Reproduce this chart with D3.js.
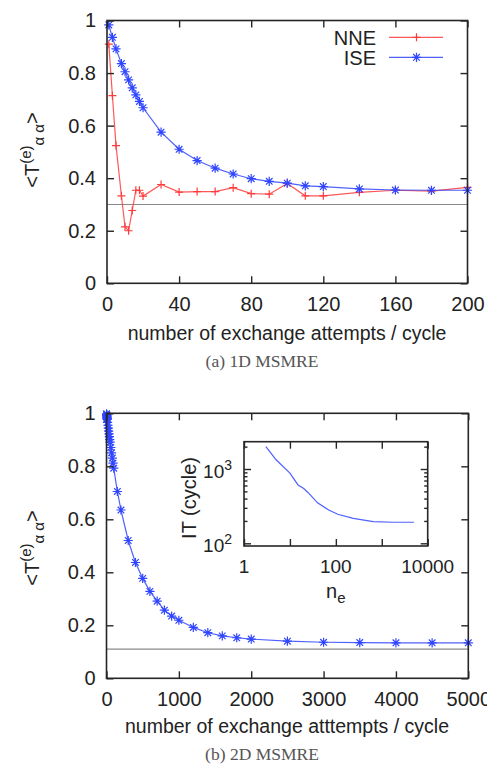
<!DOCTYPE html>
<html>
<head>
<meta charset="utf-8">
<script src="https://cdn.jsdelivr.net/npm/d3@7"></script>
<style>
  html, body { margin: 0; padding: 0; background: #fff; }
  svg { display: block; }
  text { font-family: "Liberation Sans", Arial, sans-serif; fill: #222; }
  .cap { font-family: "Liberation Serif", "DejaVu Serif", serif; fill: #555; }
</style>
</head>
<body>
<svg id="fig" width="487" height="764"></svg>
<script>
// ---- (a) 1D MSMRE ----
const attempts1D = [1, 3, 5, 8, 10, 12, 14, 16, 18, 20, 30, 40, 50, 60, 70, 80, 90, 100, 110, 120, 140, 160, 180, 200];
const nne1D = [0.91, 0.714, 0.524, 0.333, 0.215, 0.200, 0.277, 0.354, 0.354, 0.332, 0.376, 0.347, 0.349, 0.349, 0.364, 0.341, 0.339, 0.380, 0.333, 0.333, 0.346, 0.354, 0.351, 0.365];
const ise1D = [0.983, 0.936, 0.892, 0.836, 0.805, 0.774, 0.744, 0.717, 0.692, 0.668, 0.575, 0.510, 0.467, 0.438, 0.416, 0.398, 0.388, 0.381, 0.371, 0.368, 0.359, 0.355, 0.354, 0.354];
const limit1D = 0.3;
const xTicks1D = [0, 40, 80, 120, 160, 200];
const yTicks = [0, 0.2, 0.4, 0.6, 0.8, 1];

// ---- (b) 2D MSMRE ----
const attempts2D = [1, 2, 3, 4, 5, 6, 7, 8, 9, 10, 15, 20, 25, 30, 35, 40, 45, 50, 60, 70, 80, 90, 100,
  150, 200, 300, 400, 500, 600, 700, 800, 900, 1000, 1200, 1400, 1600, 1800, 2000, 2500, 3000, 3500, 4000, 4500, 5000];
const ise2D = [0.998, 0.995, 0.993, 0.991, 0.988, 0.986, 0.984, 0.981, 0.979, 0.977, 0.966, 0.955, 0.944, 0.933, 0.922, 0.912, 0.901, 0.891, 0.871, 0.851, 0.831, 0.812, 0.793,
  0.705, 0.635, 0.520, 0.437, 0.377, 0.328, 0.291, 0.257, 0.235, 0.219, 0.192, 0.172, 0.160, 0.153, 0.148, 0.140, 0.136, 0.135, 0.134, 0.134, 0.134];
const limit2D = 0.11;
const xTicks2D = [0, 1000, 2000, 3000, 4000, 5000];

// ---- inset: IT vs n_e ----
const insetNe = [3, 5, 10, 15, 20, 25, 40, 70, 110, 240, 650, 1800, 5000];
const insetIT = [2000, 1330, 880, 610, 545, 480, 350, 280, 246, 217, 196, 192, 192];
const insetXTicks = [1, 10, 100, 1000, 10000];
const insetXLabels = [1, 100, 10000];
const insetYMajor = [100, 1000];
const insetYMinor = [200, 300, 400, 500, 600, 700, 800, 900, 2000];

const RED = "#ff3b3b", BLUE = "#2f45ff", FRAME = "#262626", FS = 20;
const svg = d3.select("#fig");

const plusPath = "M-4,0H4M0,-4V4";
const starPath = "M-4.6,0H4.6M0,-4.6V4.6M-3.3,-3.3L3.3,3.3M-3.3,3.3L3.3,-3.3";

function styleAxis(g, labels) {
  g.select(".domain").remove();
  g.selectAll(".tick line").attr("stroke", FRAME).attr("stroke-width", 1.4);
  g.selectAll(".tick text").attr("fill", "#222").style("font-size", FS + "px")
    .style("font-family", "'Liberation Sans', Arial, sans-serif");
  if (!labels) g.selectAll(".tick text").remove();
}

function frame(x, y) {
  const [x0, x1] = x.range(), [y0, y1] = y.range();
  svg.append("rect").attr("x", x0).attr("y", y1).attr("width", x1 - x0).attr("height", y0 - y1)
    .attr("fill", "none").attr("stroke", FRAME).attr("stroke-width", 1.6);
}

function mainAxes(x, y, xt) {
  const [x0, x1] = x.range(), [y0, y1] = y.range();
  svg.append("g").attr("transform", `translate(0,${y0})`)
    .call(d3.axisBottom(x).tickValues(xt).tickSize(-7).tickPadding(14).tickFormat(d3.format("d")))
    .call(g => styleAxis(g, true));
  svg.append("g").attr("transform", `translate(0,${y1})`)
    .call(d3.axisTop(x).tickValues(xt).tickSize(-7))
    .call(g => styleAxis(g, false));
  svg.append("g").attr("transform", `translate(${x0},0)`)
    .call(d3.axisLeft(y).tickValues(yTicks).tickSize(-7).tickPadding(11).tickFormat(d => d3.format("")(+d.toFixed(1))))
    .call(g => styleAxis(g, true));
  svg.append("g").attr("transform", `translate(${x1},0)`)
    .call(d3.axisRight(y).tickValues(yTicks).tickSize(-7))
    .call(g => styleAxis(g, false));
}

function refLine(x, y, v) {
  const [x0, x1] = x.domain();
  svg.append("line").attr("x1", x(x0)).attr("x2", x(x1)).attr("y1", y(v)).attr("y2", y(v))
    .attr("stroke", "#8a8a8a").attr("stroke-width", 1.1);
}

function series(x, y, xs, ys, color, marker) {
  const pts = xs.map((d, i) => [d, ys[i]]);
  svg.append("path").datum(pts)
    .attr("d", d3.line().x(d => x(d[0])).y(d => y(d[1])))
    .attr("fill", "none").attr("stroke", color).attr("stroke-width", 1.2).attr("stroke-opacity", 0.85);
  svg.append("g").selectAll("path").data(pts).join("path")
    .attr("transform", d => `translate(${x(d[0])},${y(d[1])})`)
    .attr("d", marker).attr("fill", "none").attr("stroke", color).attr("stroke-width", 1.2);
}

function yTitle(cx, cy) {
  const t = svg.append("text").attr("transform", `translate(${cx},${cy}) rotate(-90)`)
    .attr("text-anchor", "middle").style("font-size", FS + "px");
  t.append("tspan").text("<T");
  t.append("tspan").attr("dy", -8).style("font-size", "15px").text("(e)");
  t.append("tspan").attr("dy", 13).style("font-size", "15px").text("α α");
  t.append("tspan").attr("dy", -5).text(">");
}

// ===== panel (a) =====
const xa = d3.scaleLinear([0, 200], [107, 467.5]);
const ya = d3.scaleLinear([0, 1], [283.3, 20.5]);
refLine(xa, ya, limit1D);
series(xa, ya, attempts1D, nne1D, RED, plusPath);
series(xa, ya, attempts1D, ise1D, BLUE, starPath);
mainAxes(xa, ya, xTicks1D);
frame(xa, ya);
yTitle(39, 150);
svg.append("text").attr("x", 287).attr("y", 340).attr("text-anchor", "middle")
  .style("font-size", "19.5px").text("number of exchange attempts / cycle");
svg.append("text").attr("class", "cap").attr("x", 262).attr("y", 367).attr("text-anchor", "middle")
  .style("font-size", "17.5px").text("(a) 1D MSMRE");

// legend
const legend = [{name: "NNE", color: RED, marker: plusPath, y: 37.3}, {name: "ISE", color: BLUE, marker: starPath, y: 57.3}];
legend.forEach(l => {
  svg.append("text").attr("x", 376).attr("y", l.y).attr("dy", "0.36em").attr("text-anchor", "end")
    .style("font-size", FS + "px").text(l.name);
  svg.append("line").attr("x1", 389).attr("x2", 443).attr("y1", l.y).attr("y2", l.y)
    .attr("stroke", l.color).attr("stroke-width", 1.2).attr("stroke-opacity", 0.85);
  svg.append("path").attr("transform", `translate(416.5,${l.y})`).attr("d", l.marker)
    .attr("fill", "none").attr("stroke", l.color).attr("stroke-width", 1.2);
});

// ===== panel (b) =====
const xb = d3.scaleLinear([0, 5000], [106.5, 468.3]);
const yb = d3.scaleLinear([0, 1], [678.3, 413.3]);
refLine(xb, yb, limit2D);
series(xb, yb, attempts2D, ise2D, BLUE, starPath);
mainAxes(xb, yb, xTicks2D);
frame(xb, yb);
yTitle(39, 548);
svg.append("text").attr("x", 287).attr("y", 733).attr("text-anchor", "middle")
  .style("font-size", "19.5px").text("number of exchange atttempts / cycle");
svg.append("text").attr("class", "cap").attr("x", 262).attr("y", 760).attr("text-anchor", "middle")
  .style("font-size", "17.5px").text("(b) 2D MSMRE");

// ===== inset =====
const xi = d3.scaleLog([1, 10000], [244, 427.7]);
const yi = d3.scaleLog([92, 2330], [546, 441.7]);
svg.append("rect").attr("x", 244).attr("y", 441.7).attr("width", 183.7).attr("height", 104.3).attr("fill", "#fff");
series(xi, yi, insetNe, insetIT, BLUE, "");
[["axisBottom", 546, insetXTicks, 7], ["axisTop", 441.7, insetXTicks, 7]].forEach(([fn, pos, tv, s]) => {
  svg.append("g").attr("transform", `translate(0,${pos})`)
    .call(d3[fn](xi).tickValues(tv).tickSize(-s)).call(g => styleAxis(g, false));
});
[["axisLeft", 244], ["axisRight", 427.7]].forEach(([fn, pos]) => {
  svg.append("g").attr("transform", `translate(${pos},0)`)
    .call(d3[fn](yi).tickValues(insetYMajor).tickSize(-7)).call(g => styleAxis(g, false));
  svg.append("g").attr("transform", `translate(${pos},0)`)
    .call(d3[fn](yi).tickValues(insetYMinor).tickSize(-3.5)).call(g => styleAxis(g, false));
});
frame(xi, yi);
svg.append("g").selectAll("text").data(insetXLabels).join("text")
  .attr("x", d => xi(d)).attr("y", 573).attr("text-anchor", "middle")
  .style("font-size", "19px").text(d => d);
insetYMajor.forEach(v => {
  const t = svg.append("text").attr("x", 232).attr("y", yi(v) + 9).attr("text-anchor", "end").style("font-size", "19px");
  t.append("tspan").text("10");
  t.append("tspan").attr("dy", -8).style("font-size", "14px").text(Math.round(Math.log10(v)));
});
svg.append("text").attr("transform", "translate(196,498) rotate(-90)").attr("text-anchor", "middle")
  .style("font-size", FS + "px").text("IT (cycle)");
const ne = svg.append("text").attr("x", 326).attr("y", 598).style("font-size", FS + "px");
ne.append("tspan").text("n");
ne.append("tspan").attr("dy", 5).style("font-size", "15px").text("e");
</script>
</body>
</html>
